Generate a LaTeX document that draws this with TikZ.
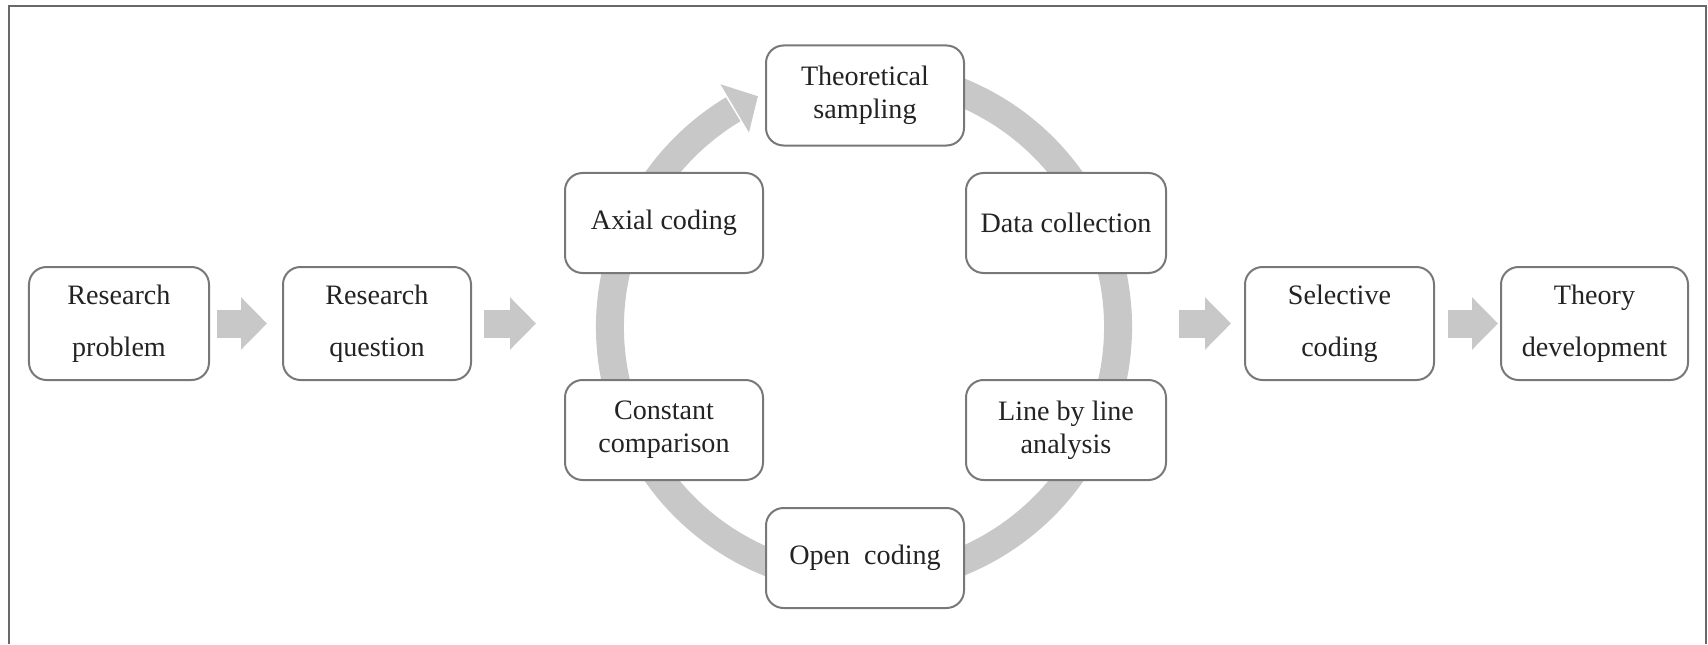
\documentclass[tikz,border=0pt]{standalone}
\usepackage{fontspec}
\setmainfont{Liberation Serif}
\usetikzlibrary{arrows.meta,positioning,calc}
\definecolor{boxLine}{RGB}{120,120,120}
\definecolor{ringGray}{RGB}{200,200,200}
\definecolor{txtGray}{RGB}{35,35,35}
\definecolor{frameGray}{RGB}{105,105,105}
\tikzstyle{nS}=[rectangle,rounded corners=3.5mm,draw=boxLine,line width=0.4mm,fill=white,minimum width=39.6mm,minimum height=20mm,inner sep=0pt,align=center,text=txtGray,font=\fontsize{16}{18.8}\selectfont]
\tikzstyle{nW}=[nS,minimum height=22.6mm,font=\fontsize{16}{29.6}\selectfont]
\tikzstyle{eBlock}=[draw=ringGray,line width=5.6mm,-{Triangle[width=10.2mm,length=5.2mm]}]
\tikzstyle{eRing}=[draw=ringGray,line width=5.6mm]
\begin{document}
\begin{tikzpicture}[x=0.2mm,y=0.2mm]

                \useasboundingbox (0,0) rectangle (1708,644);
                \draw[draw=frameGray,line width=0.4mm] (9,0) -- (9,638) -- (1706,638) -- (1706,0);

                % the cycle
                \coordinate (cyc) at (864,317);
                \coordinate (cycW) at (596,320.5);
                \coordinate (cycE) at (1132,320.5);
                \draw[eRing] ([shift={(75:50.8mm)}]cyc) arc[start angle=75,end angle=-239,radius=50.8mm];
                \fill[ringGray] ([shift={(120.6:56.4mm)}]cyc) -- ([shift={(114.7:50.8mm)}]cyc) -- ([shift={(120.6:45.2mm)}]cyc) -- cycle;

                \draw (119,320.5) node[nW,minimum width=36mm] (rp) {Research\\problem};
                \draw (377,320.5) node[nW,minimum width=37.6mm] (rq) {Research\\question};

                \draw (865,548.5) node[nS] (ts) {Theoretical\\sampling};
                \draw (664,421) node[nS] (ac) {Axial coding};
                \draw (1066,421) node[nS,minimum width=40mm] (dc) {Data collection};
                \draw (664,214) node[nS] (cc) {Constant\\comparison};
                \draw (1066,214) node[nS,minimum width=40mm] (ll) {Line by line\\analysis};
                \draw (865,86) node[nS] (oc) {Open\ \ coding};

                \draw (1339.5,320.5) node[nW,minimum width=37.8mm] (sc) {Selective\\coding};
                \draw (1594.5,320.5) node[nW,minimum width=37.4mm] (td) {Theory\\development};

                \path
                    (rp) edge[eBlock,shorten <=1.4mm,shorten >=3mm] (rq)
                    (rq) edge[eBlock,shorten <=2.4mm,shorten >=12mm] (cycW)
                    (cycE) edge[eBlock,shorten <=9.4mm,shorten >=2.6mm] (sc)
                    (sc) edge[eBlock,shorten <=2.6mm,shorten >=0.4mm] (td)
                ;

\end{tikzpicture}
\end{document}
